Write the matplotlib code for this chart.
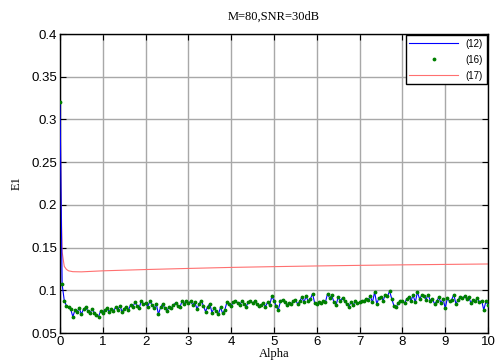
import numpy as np
import matplotlib
matplotlib.use("Agg")
from matplotlib import pyplot as plt

# sample grid of alpha (0..10, step 0.05)
alpha = np.linspace(0, 10, 201)

# E1 values, eq (16) points (eq (12) line goes through the same values)
e1_16 = [
    0.320, 0.107, 0.088, 0.082, 0.080, 0.078, 0.069, 0.077, 0.075, 0.079,
    0.072, 0.078, 0.080, 0.076, 0.073, 0.078, 0.074, 0.071, 0.069, 0.076,
    0.074, 0.077, 0.079, 0.075, 0.078, 0.076, 0.080, 0.077, 0.082, 0.075,
    0.078, 0.081, 0.077, 0.083, 0.080, 0.086, 0.082, 0.079, 0.088, 0.084,
    0.085, 0.081, 0.087, 0.083, 0.079, 0.084, 0.072, 0.080, 0.084, 0.079,
    0.076, 0.081, 0.079, 0.083, 0.085, 0.082, 0.080, 0.087, 0.084, 0.088,
    0.085, 0.087, 0.083, 0.086, 0.078, 0.084, 0.088, 0.082, 0.075, 0.081,
    0.084, 0.074, 0.079, 0.076, 0.072, 0.080, 0.073, 0.077, 0.086, 0.084,
    0.082, 0.086, 0.088, 0.085, 0.083, 0.087, 0.084, 0.081, 0.086, 0.088,
    0.085, 0.087, 0.084, 0.082, 0.083, 0.085, 0.081, 0.086, 0.083, 0.093,
    0.088, 0.082, 0.077, 0.087, 0.089, 0.086, 0.083, 0.085, 0.084, 0.087,
    0.089, 0.084, 0.087, 0.092, 0.086, 0.093, 0.087, 0.090, 0.096, 0.085,
    0.084, 0.086, 0.085, 0.087, 0.086, 0.096, 0.091, 0.094, 0.086, 0.083,
    0.092, 0.088, 0.091, 0.087, 0.084, 0.081, 0.086, 0.083, 0.087, 0.085,
    0.086, 0.088, 0.087, 0.090, 0.089, 0.093, 0.086, 0.098, 0.084, 0.091,
    0.092, 0.088, 0.095, 0.093, 0.099, 0.090, 0.082, 0.080, 0.085, 0.088,
    0.087, 0.085, 0.090, 0.092, 0.088, 0.094, 0.086, 0.098, 0.090, 0.094,
    0.093, 0.089, 0.095, 0.088, 0.090, 0.084, 0.087, 0.092, 0.085, 0.090,
    0.079, 0.091, 0.087, 0.089, 0.095, 0.084, 0.089, 0.092, 0.091, 0.093,
    0.090, 0.092, 0.085, 0.089, 0.087, 0.091, 0.086, 0.088, 0.077, 0.087,
    0.083,
]
e1_12 = e1_16

# eq (17) curve
alpha_17 = [0, 0.02, 0.05, 0.1, 0.15, 0.2, 0.3, 0.5, 1, 2, 3, 4, 5, 6, 7, 8, 9, 10]
e1_17 = [0.375, 0.22, 0.145, 0.128, 0.1245, 0.1228, 0.1218, 0.1216, 0.1228,
         0.1243, 0.1256, 0.1268, 0.1277, 0.1285, 0.1292, 0.1298, 0.1303, 0.1308]

xticks = list(range(0, 11))
yticks = [0.05, 0.1, 0.15, 0.2, 0.25, 0.3, 0.35, 0.4]
ytick_labels = ["0.05", "0.1", "0.15", "0.2", "0.25", "0.3", "0.35", "0.4"]

fig = plt.figure(figsize=(4.97, 3.63), dpi=100)
ax = fig.add_axes([0.1207, 0.0826, 0.8613, 0.8237])

ax.plot(alpha, e1_12, color="blue", lw=0.8, label="(12)", zorder=3)
ax.plot(alpha, e1_16, ".", color="green", ms=3.5, label="(16)", zorder=4)
ax.plot(alpha_17, e1_17, color="#ff7070", lw=0.8, label="(17)", zorder=2)

ax.set_xlim(0, 10)
ax.set_ylim(0.05, 0.4)
ax.set_xticks(xticks)
ax.set_yticks(yticks)
ax.set_yticklabels(ytick_labels)
ax.tick_params(direction="in", labelsize=9.5, length=4, top=True, right=True,
               labeltop=False, labelright=False)
ax.tick_params(axis="x", pad=2)
ax.tick_params(axis="y", pad=2)
for lab in ax.get_xticklabels() + ax.get_yticklabels():
    lab.set_family("Liberation Sans")
ax.grid(True, color="#a8a8a8", lw=1, ls="-")
for s in ax.spines.values():
    s.set_linewidth(1)

ax.set_title("M=80,SNR=30dB", family="Liberation Serif", fontsize=9, pad=10)
ax.set_xlabel("Alpha", family="Liberation Serif", fontsize=9, labelpad=0)
ax.set_ylabel("E1", family="Liberation Serif", fontsize=9, labelpad=6)

leg = ax.legend(loc="upper right", prop={"family": "Liberation Sans", "size": 7},
                fancybox=False, framealpha=1, edgecolor="black",
                borderaxespad=0.1, handlelength=5, labelspacing=0.6)
leg.get_frame().set_linewidth(1)

fig.savefig("out.png", dpi=100)
